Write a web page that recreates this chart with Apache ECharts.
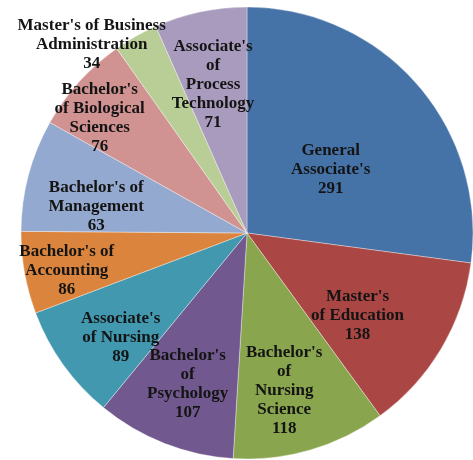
<!DOCTYPE html>
<html>
<head>
<meta charset="utf-8">
<script src="https://cdn.jsdelivr.net/npm/echarts@6/dist/echarts.min.js"></script>
<style>
  html, body { margin: 0; padding: 0; background: #fff; }
  #chart { width: 473px; height: 460px; }
</style>
</head>
<body>
<div id="chart"></div>
<script>
var categories = [
  "General Associate's", "Master's of Education", "Bachelor's of Nursing Science",
  "Bachelor's of Psychology", "Associate's of Nursing", "Bachelor's of Accounting",
  "Bachelor's of Management", "Bachelor's of Biological Sciences",
  "Master's of Business Administration", "Associate's of Process Technology"
];
// slice sizes as drawn in the picture
var values = [291, 138, 118, 107, 89, 63, 86, 76, 34, 71];
// numbers printed on the slices (the source swaps Accounting / Management)
var labelValues = [291, 138, 118, 107, 89, 86, 63, 76, 34, 71];
var labelLines = [
  "General\nAssociate's", "Master's\nof Education", "Bachelor's\nof\nNursing\nScience",
  "Bachelor's\nof\nPsychology", "Associate's\nof Nursing", "Bachelor's of\nAccounting",
  "Bachelor's of\nManagement", "Bachelor's\nof Biological\nSciences",
  "Master's of Business\nAdministration", "Associate's\nof\nProcess\nTechnology"
];
var colors = ['#4572A7', '#AA4643', '#89A54E', '#71588F', '#4198AF',
              '#DB843D', '#93A9CF', '#D19392', '#B9CD96', '#A99BBD'];

// label placement tweaks: [distance from centre in px, angle shift in degrees]
var labelPlace = [[105, 4], [138, 6], [162, 3], [162, 0], [164, -4],
                  [184, -1.5], [153, -5], [187, -4], [244, -10], [152, -1]];

var CX = 247, CY = 233, R = 226;

var chart = echarts.init(document.getElementById('chart'), null, { renderer: 'canvas' });

var data = categories.map(function (name, i) {
  return { name: name, value: values[i], itemStyle: { color: colors[i] } };
});

chart.setOption({
  animation: false,
  series: [{
    type: 'pie',
    center: [CX, CY],
    radius: R,
    startAngle: 90,
    clockwise: true,
    data: data,
    itemStyle: { borderColor: 'rgba(255,255,255,0.6)', borderWidth: 0.6 },
    label: {
      position: 'inside',
      formatter: function (p) { return labelLines[p.dataIndex] + '\n' + labelValues[p.dataIndex]; },
      fontFamily: 'Liberation Serif',
      fontWeight: 'bold',
      fontSize: 17,
      lineHeight: 19,
      color: '#141414'
    },
    labelLine: { show: false },
    emphasis: { disabled: true },
    labelLayout: function (params) {
      var r = params.labelRect;
      var mx = r.x + r.width / 2, my = r.y + r.height / 2;
      var ang = Math.atan2(mx - CX, CY - my);
      var pl = labelPlace[params.dataIndex];
      var a = ang + pl[1] * Math.PI / 180;
      var nx = CX + pl[0] * Math.sin(a), ny = CY - pl[0] * Math.cos(a);
      return { dx: nx - mx, dy: ny - my };
    }
  }]
});
</script>
</body>
</html>
